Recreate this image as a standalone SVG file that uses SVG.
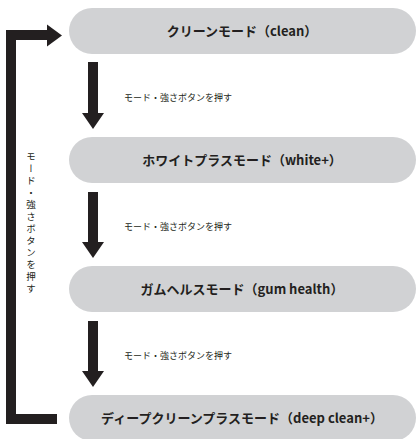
<svg xmlns="http://www.w3.org/2000/svg" width="417" height="439" viewBox="0 0 417 439">
<style>
.pill{fill:#d1d2d4}
.lbl{font-family:"Noto Sans CJK JP","Noto Sans",sans-serif;font-weight:bold;font-size:13px;fill:#231f20;text-anchor:middle}
.side{font-family:"Noto Sans CJK JP","Noto Sans",sans-serif;font-size:9px;fill:#231f20}
.ar{fill:#231f20}
.bar{fill:none;stroke:#231f20;stroke-width:10}
</style>
<rect width="417" height="439" fill="#ffffff"/>
<g id="node-clean">
<rect class="pill" x="69" y="8" width="347" height="46" rx="23"/>
<text class="lbl" x="242" y="35.5">クリーンモード（clean）</text>
</g>
<g id="node-white">
<rect class="pill" x="69" y="137" width="347" height="46" rx="23"/>
<text class="lbl" x="242" y="164.5">ホワイトプラスモード（white+）</text>
</g>
<g id="node-gum">
<rect class="pill" x="69" y="266" width="347" height="46" rx="23"/>
<text class="lbl" x="242" y="293.5">ガムヘルスモード（gum health）</text>
</g>
<g id="node-deep">
<rect class="pill" x="69" y="395" width="347" height="46" rx="23"/>
<text class="lbl" x="242" y="422.5">ディープクリーンプラスモード（deep clean+）</text>
</g>
<g id="connectors">
<polygon class="ar" points="88,62 98,62 98,113 104,113 93,129 82,113 88,113"/>
<polygon class="ar" points="88,192 98,192 98,242 104,242 93,258 82,242 88,242"/>
<polygon class="ar" points="88,321 98,321 98,371 104,371 93,387 82,371 88,371"/>
<polyline class="bar" points="57,419 11,419 11,35 48,35"/>
<polygon class="ar" points="47,24.5 62,35.5 47,46.5"/>
<text class="side" x="124" y="101">モード・強さボタンを押す</text>
<text class="side" x="124" y="230">モード・強さボタンを押す</text>
<text class="side" x="124" y="359">モード・強さボタンを押す</text>
<text class="side" x="31" y="152" style="writing-mode:vertical-rl;font-size:9.5px;letter-spacing:2.5px">モード・強さボタンを押す</text>
</g>
</svg>
